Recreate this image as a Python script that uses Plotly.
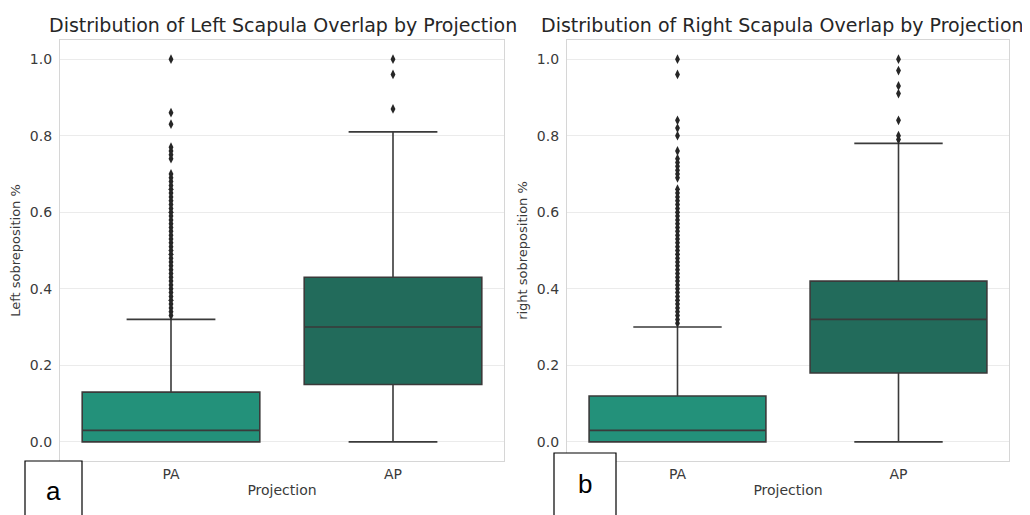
import plotly.graph_objects as go

OFF = 8  # page body margin in the browser
W, H = 1030 - OFF, 515 - OFF

categories = ["PA", "AP"]

# Left scapula box stats
left_q1 = [0.0, 0.15]
left_median = [0.03, 0.30]
left_q3 = [0.13, 0.43]
left_lower = [0.0, 0.0]
left_upper = [0.32, 0.81]
left_pa_outliers = [0.33, 0.34, 0.35, 0.36, 0.37, 0.38, 0.39, 0.40, 0.41, 0.42,
                    0.43, 0.44, 0.45, 0.46, 0.47, 0.48, 0.49, 0.50, 0.51, 0.52,
                    0.53, 0.54, 0.55, 0.56, 0.57, 0.58, 0.59, 0.60, 0.61, 0.62,
                    0.63, 0.64, 0.65, 0.66, 0.67, 0.68, 0.69, 0.70,
                    0.74, 0.75, 0.76, 0.77, 0.83, 0.86, 1.0]
left_ap_outliers = [0.87, 0.96, 1.0]

# Right scapula box stats
right_q1 = [0.0, 0.18]
right_median = [0.03, 0.32]
right_q3 = [0.12, 0.42]
right_lower = [0.0, 0.0]
right_upper = [0.30, 0.78]
right_pa_outliers = [0.31, 0.32, 0.33, 0.34, 0.35, 0.36, 0.37, 0.38, 0.39, 0.40,
                     0.41, 0.42, 0.43, 0.44, 0.45, 0.46, 0.47, 0.48, 0.49, 0.50,
                     0.51, 0.52, 0.53, 0.54, 0.55, 0.56, 0.57, 0.58, 0.59, 0.60,
                     0.61, 0.62, 0.63, 0.64, 0.65, 0.66,
                     0.69, 0.70, 0.71, 0.72, 0.73, 0.74, 0.76, 0.80, 0.82, 0.84,
                     0.96, 1.0]
right_ap_outliers = [0.79, 0.80, 0.84, 0.91, 0.93, 0.97, 1.0]

box_colors = ["#23917a", "#226b5b"]
line_col = "#3a3a3a"
out_col = "#262626"

titles = ["Distribution of Left Scapula Overlap by Projection",
          "Distribution of Right Scapula Overlap by Projection"]
ylabels = ["Left sobreposition %", "right sobreposition %"]
panel_letters = ["a", "b"]

fig = go.Figure()

panels = [
    ("x", "y", left_q1, left_median, left_q3, left_lower, left_upper, [left_pa_outliers, left_ap_outliers]),
    ("x2", "y2", right_q1, right_median, right_q3, right_lower, right_upper, [right_pa_outliers, right_ap_outliers]),
]

for xa, ya, q1, med, q3, lo, up, outs in panels:
    for i, cat in enumerate(categories):
        fig.add_trace(go.Box(
            x=[cat], q1=[q1[i]], median=[med[i]], q3=[q3[i]],
            lowerfence=[lo[i]], upperfence=[up[i]],
            boxpoints=False, width=0.8, whiskerwidth=0.5,
            fillcolor=box_colors[i], line=dict(color=line_col, width=1.6),
            xaxis=xa, yaxis=ya, showlegend=False, hoverinfo="skip",
        ))
        fig.add_trace(go.Scatter(
            x=[cat] * len(outs[i]), y=outs[i], mode="markers",
            marker=dict(symbol="diamond-tall", size=7, color=out_col, line=dict(width=0)),
            xaxis=xa, yaxis=ya, showlegend=False, hoverinfo="skip",
        ))

px = lambda p: (p - OFF) / W
py = lambda p: 1 - (p - OFF) / H

x_domains = [[px(60), px(504)], [px(567), px(1009)]]
y_domain = [py(461), py(40)]

axis_common = dict(
    showline=True, mirror=True, linecolor="#d6d6d6", linewidth=1.2,
    ticks="", tickfont=dict(family="DejaVu Sans", size=14, color="#3a3a3a"),
    zeroline=False, automargin=False,
)

for k in range(2):
    sfx = "" if k == 0 else "2"
    fig.update_layout(**{
        "xaxis" + sfx: dict(
            domain=x_domains[k], anchor="y" + sfx, type="category",
            categoryorder="array", categoryarray=categories, range=[-0.5, 1.5],
            showgrid=False,
            title=dict(text="Projection", font=dict(family="DejaVu Sans", size=14, color="#3a3a3a"), standoff=4),
            **axis_common),
        "yaxis" + sfx: dict(
            domain=y_domain, anchor="x" + sfx, range=[-0.05, 1.05],
            tickvals=[0.0, 0.2, 0.4, 0.6, 0.8, 1.0], tickformat=".1f",
            ticklabelstandoff=4,
            showgrid=True, gridcolor="#ebebeb", gridwidth=1,
            title=dict(text=ylabels[k], font=dict(family="DejaVu Sans", size=13, color="#3a3a3a"), standoff=6),
            **axis_common),
    })

annotations = []
title_centers = [283, 782]
for k in range(2):
    annotations.append(dict(
        text=titles[k], x=px(title_centers[k]), y=py(25), xref="paper", yref="paper",
        xanchor="center", yanchor="middle", showarrow=False,
        font=dict(family="DejaVu Sans", size=19, color="#262626")))

# panel letter boxes
letter_boxes = [(25, 461, 82, 516, 53, 491), (554, 453, 616, 516, 585, 484)]
shapes = []
for k, (x0, y0, x1, y1, tx, ty) in enumerate(letter_boxes):
    shapes.append(dict(type="rect", xref="paper", yref="paper",
                       x0=px(x0), x1=px(x1), y0=py(y1), y1=py(y0),
                       line=dict(color="black", width=1.2), fillcolor="white", layer="above"))
    annotations.append(dict(text=panel_letters[k], x=px(tx), y=py(ty), xref="paper", yref="paper",
                            xanchor="center", yanchor="middle", showarrow=False,
                            font=dict(family="Liberation Sans", size=26, color="black")))

fig.update_layout(
    width=W, height=H, margin=dict(l=0, r=0, t=0, b=0),
    paper_bgcolor="white", plot_bgcolor="white",
    annotations=annotations, shapes=shapes,
)

fig.write_html("out.html")
